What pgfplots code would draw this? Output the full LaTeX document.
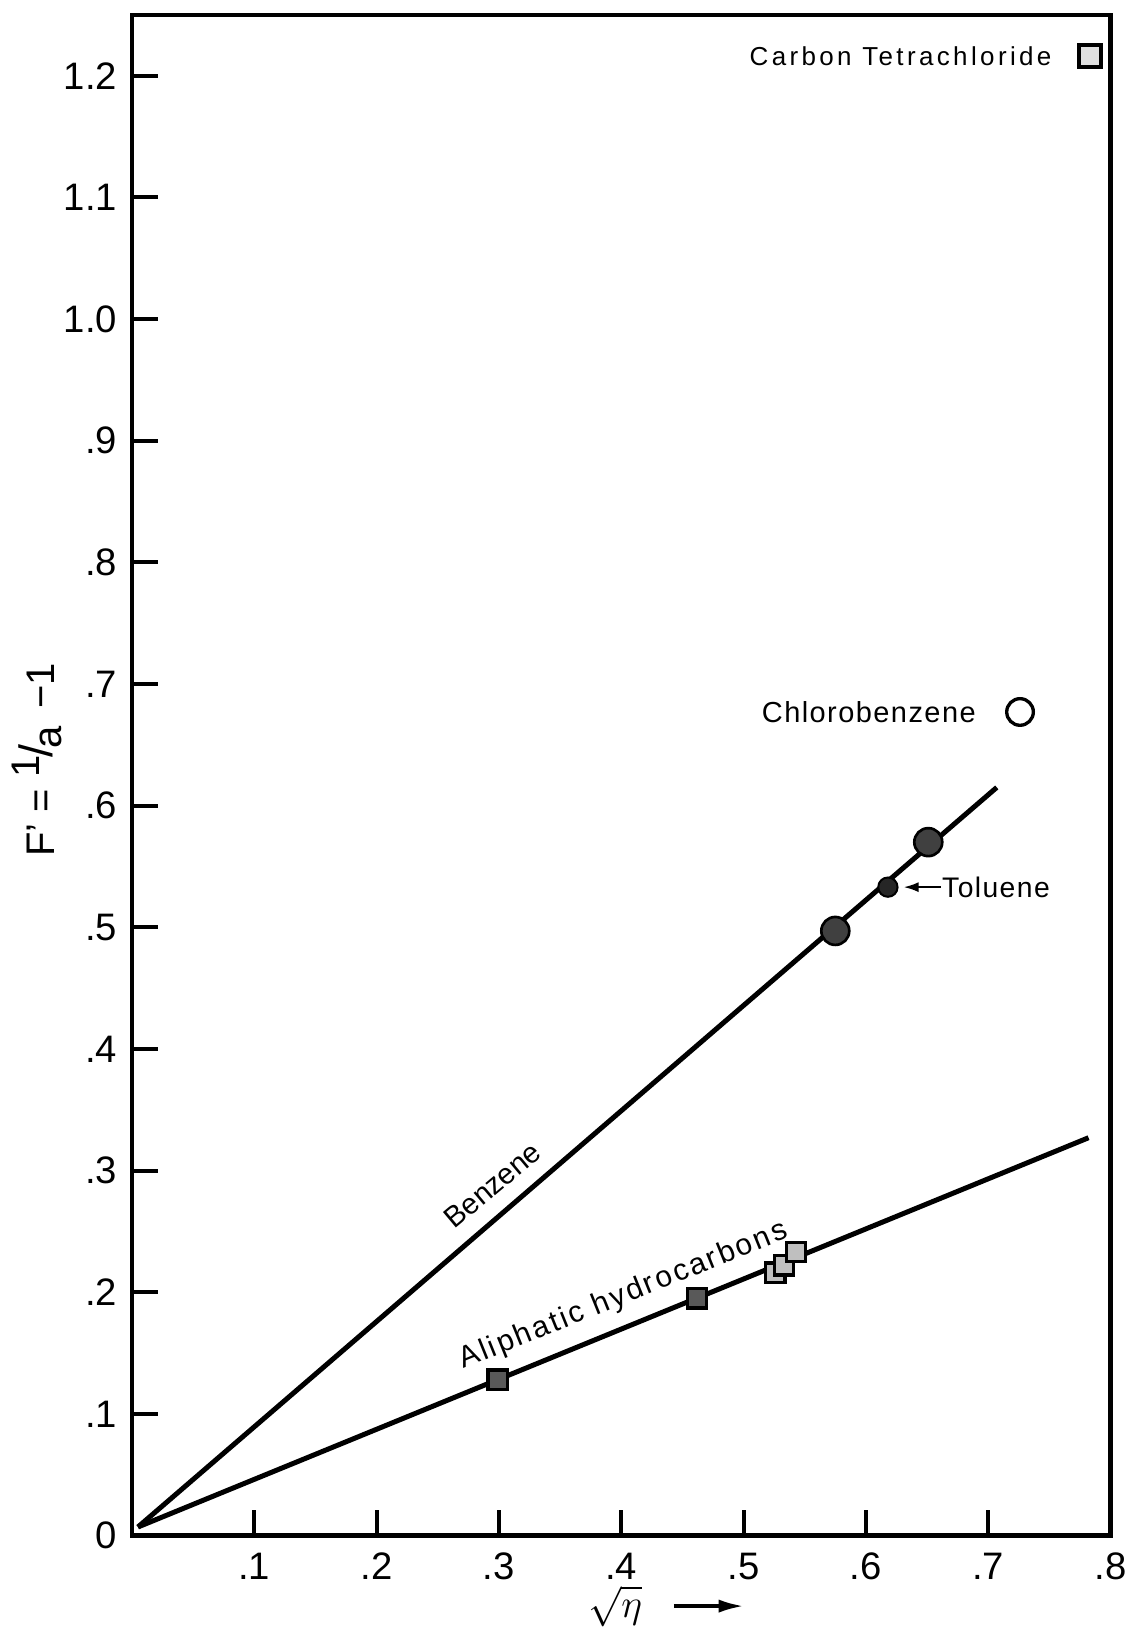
\documentclass[border=0pt]{standalone}
\usepackage{amsmath}
\usepackage{fontspec}
\setmainfont{Liberation Sans}
\newfontfamily\lblA[LetterSpace=5]{Liberation Sans}
\newfontfamily\lblB[LetterSpace=13]{Liberation Sans}
\newfontfamily\lblC[LetterSpace=8]{Liberation Sans}
\usepackage{pgfplots}
\pgfplotsset{compat=1.18}
\usetikzlibrary{arrows.meta}
\begin{document}
\begin{tikzpicture}
\begin{axis}[
  scale only axis, width=294pt, height=456.75pt,
  xmin=0, xmax=0.8, ymin=0, ymax=1.25,
  axis line style={line width=1.3pt},
  tick style={line width=1.2pt, black},
  tick align=inside, major tick length=7.8pt,
  xtick pos=left, ytick pos=left,
  xtick={0.1,0.2,0.3,0.4,0.5,0.6,0.7,0.8},
  xticklabels={.1,.2,.3,.4,.5,.6,.7,.8},
  ytick={0,0.1,0.2,0.3,0.4,0.5,0.6,0.7,0.8,0.9,1.0,1.1,1.2},
  yticklabels={0,.1,.2,.3,.4,.5,.6,.7,.8,.9,1.0,1.1,1.2},
  tick label style={font=\fontsize{11.5}{13}\selectfont, inner sep=0pt},
  xticklabel style={yshift=-5pt},
  yticklabel style={xshift=-4.2pt},
  clip=false,
]
% Benzene line
\addplot[black, line width=1.5pt] coordinates {(0.005,0.007) (0.707,0.615)};
% Aliphatic hydrocarbons line
\addplot[black, line width=1.5pt] coordinates {(0.005,0.007) (0.782,0.327)};
% large filled circles
\addplot[only marks, mark=*, mark size=4.2pt, mark options={fill=black!75, draw=black, line width=0.8pt}] coordinates {(0.575,0.497) (0.651,0.570)};
% Toluene
\addplot[only marks, mark=*, mark size=2.9pt, mark options={fill=black!85, draw=black, line width=0.6pt}] coordinates {(0.618,0.533)};
% Chlorobenzene
\addplot[only marks, mark=o, mark size=4pt, mark options={line width=1pt, draw=black}] coordinates {(0.726,0.677)};
% aliphatic squares
\addplot[only marks, mark=square*, mark size=2.9pt, mark options={fill=black!65, draw=black, line width=1pt}] coordinates {(0.299,0.128) (0.462,0.195)};
\addplot[only marks, mark=square*, mark size=2.9pt, mark options={fill=black!25, draw=black, line width=1pt}] coordinates {(0.526,0.216) (0.533,0.222) (0.543,0.233)};
% Carbon tetrachloride
\addplot[only marks, mark=square*, mark size=3.3pt, mark options={fill=black!12, draw=black, line width=1.2pt}] coordinates {(0.783,1.216)};

\node[rotate=40, inner sep=0, font=\fontsize{8.8}{10}\selectfont] at (axis cs:0.295,0.288) {Benzene};
\node[rotate=22, inner sep=0, font=\lblC\fontsize{9}{11}\selectfont] at (axis cs:0.402,0.197) {Aliphatic hydrocarbons};
\node[anchor=east, inner sep=0, font=\lblA\fontsize{8.7}{10}\selectfont] at ([xshift=-13.1pt]axis cs:0.726,0.677) {Chlorobenzene};
\node[anchor=east, inner sep=0, font=\lblB\fontsize{7.8}{9}\selectfont] at ([xshift=-11.3pt]axis cs:0.783,1.216) {Carbon Tetrachloride};
\draw[line width=0.7pt, -{Latex[length=4.5pt,width=3pt]}] ([xshift=15.9pt]axis cs:0.618,0.533) -- ([xshift=4.7pt]axis cs:0.618,0.533);
\node[anchor=west, inner sep=0, font=\lblA\fontsize{8.5}{10}\selectfont] at ([xshift=16.1pt]axis cs:0.618,0.533) {Toluene};

% axis labels
\node[rotate=90, inner sep=0, font=\fontsize{12}{14}\selectfont] at ([xshift=-28.4pt]axis cs:0,0.6375)
  {F' = \raisebox{0.7ex}{1}\kern-0.05em\raisebox{0.1ex}{\fontsize{14}{14}\selectfont/}\kern-0.1em\raisebox{-0.35ex}{a} \,−1};
\node[anchor=north, inner sep=0, font=\fontsize{12.5}{14}\selectfont] at ([yshift=-14.8pt]axis cs:0.395,0) {$\sqrt{\smash[b]{\eta}}$};
\draw[line width=1pt, -{Latex[length=7.5pt,width=4pt]}] ([yshift=-21.2pt]axis cs:0.443,0) -- ([yshift=-21.2pt]axis cs:0.500,0);
\end{axis}
\path ([shift={(-39.6pt,-26.85pt)}]current axis.south west) rectangle ([shift={(4.8pt,4.5pt)}]current axis.north east);
\end{tikzpicture}
\end{document}
